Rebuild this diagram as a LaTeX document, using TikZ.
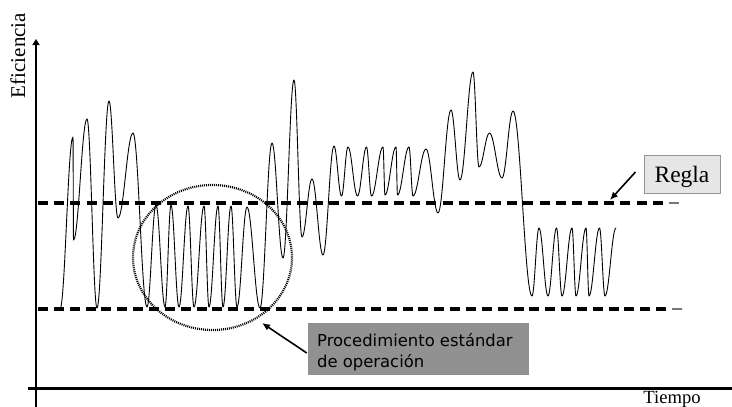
\documentclass[tikz,border=0pt]{standalone}
\usepackage{fontspec}
\setmainfont{Liberation Serif}
\newfontfamily\procfont{DejaVu Sans}
\usetikzlibrary{arrows.meta}
\definecolor{procgray}{RGB}{145,145,145}
\definecolor{reglafill}{RGB}{230,230,230}
\definecolor{reglaline}{RGB}{150,150,150}
\definecolor{endgray}{RGB}{120,120,120}
\begin{document}
\begin{tikzpicture}[x=1pt,y=-1pt,
  curve/.style={line width=0.9pt,line join=round},
  ruleline/.style={line width=3.6pt},
  ruleend/.style={line width=2.4pt,endgray},
  axisline/.style={line width=2pt},
  loopline/.style={line width=2.2pt,dash pattern=on 1pt off 1pt},
  pointer/.style={line width=1.6pt,-{Latex[width=7pt,length=8pt]}},
  reglabox/.style={draw=reglaline,fill=reglafill,line width=1pt,minimum width=76pt,minimum height=38pt,inner sep=0pt,text depth=0pt,font=\fontsize{23.5}{28}\selectfont},
  procbox/.style={fill=procgray,minimum width=221pt,minimum height=52pt,inner sep=0pt},
  proctext/.style={inner sep=0pt,align=left,font=\procfont\fontsize{16.4}{21}\selectfont},
  axlabel/.style={inner sep=0pt}]
\useasboundingbox (0,0) rectangle (732,407);

% axes
\draw[axisline,-{Triangle[width=7pt,length=6pt]}] (36,407) -- (36,39);
\draw[line width=3pt] (28,388) -- (732,388);
\node[axlabel,rotate=90,font=\fontsize{21}{25}\selectfont] (ylab) at (17.8,55.5) {Eficiencia};
\node[axlabel,anchor=base,font=\fontsize{18.6}{22}\selectfont] (xlab) at (672,403) {Tiempo};

% rule lines
\draw[ruleline,dash pattern=on 10pt off 6.18pt] (38,203) -- (664,203);
\draw[ruleend] (669,203) -- (679,203);
\draw[ruleline,dash pattern=on 10pt off 5.85pt] (38,309) -- (667,309);
\draw[ruleend] (672,309) -- (682,309);

% efficiency curve
\draw[curve] (60,309)
 \foreach \x/\y [remember=\x as \lx (initially 60), remember=\y as \ly (initially 309)] in
 {73/137, 73.5/240, 87/119, 97/308, 109/101, 118/218, 133/133, 147/307,
  156/205, 165/307, 171/205, 179/307, 188/206, 194/307, 204/206, 209/307, 218/206, 223/307, 231/206, 237/307, 247/207, 260/308,
  272/143, 283/258, 294/80, 302/237, 312/179, 323/255,
  334/146, 341.5/196, 348/147, 357.5/196, 366.5/147, 371.5/196, 383/147, 385/195, 396/147, 397.5/195, 409/147, 413/196, 426/149, 438/213,
  451/110, 460/180, 473/72, 479/167, 489.5/133, 502/178, 513/111, 532/296,
  539/228, 548/296, 556.5/228, 562/296, 572/228, 576/296, 586/228, 589/296, 599.5/228, 605/296, 616/228}
 { .. controls ({\lx+0.38*(\x-\lx)},\ly) and ({\x-0.38*(\x-\lx)},\y) .. (\x,\y) };

% dotted loop
\draw[loopline] (212.5,257.5) ellipse [x radius=79.5, y radius=72.5];

% Regla
\node[reglabox] (regla) at (682,174) {Regla};
\coordinate (rtip) at (610,200);
\draw[pointer] ([xshift=-8pt,yshift=2pt]regla.west) -- (rtip);

% Procedimiento
\node[procbox] (proc) at (418.5,349) {};
\node[proctext,anchor=north west] (proctxt) at (317,333.5) {Procedimiento estándar\\de operación};
\coordinate (ptip) at (262,323);
\draw[pointer] ([xshift=-1pt,yshift=-4pt]proc.west) -- (ptip);
\end{tikzpicture}
\end{document}
